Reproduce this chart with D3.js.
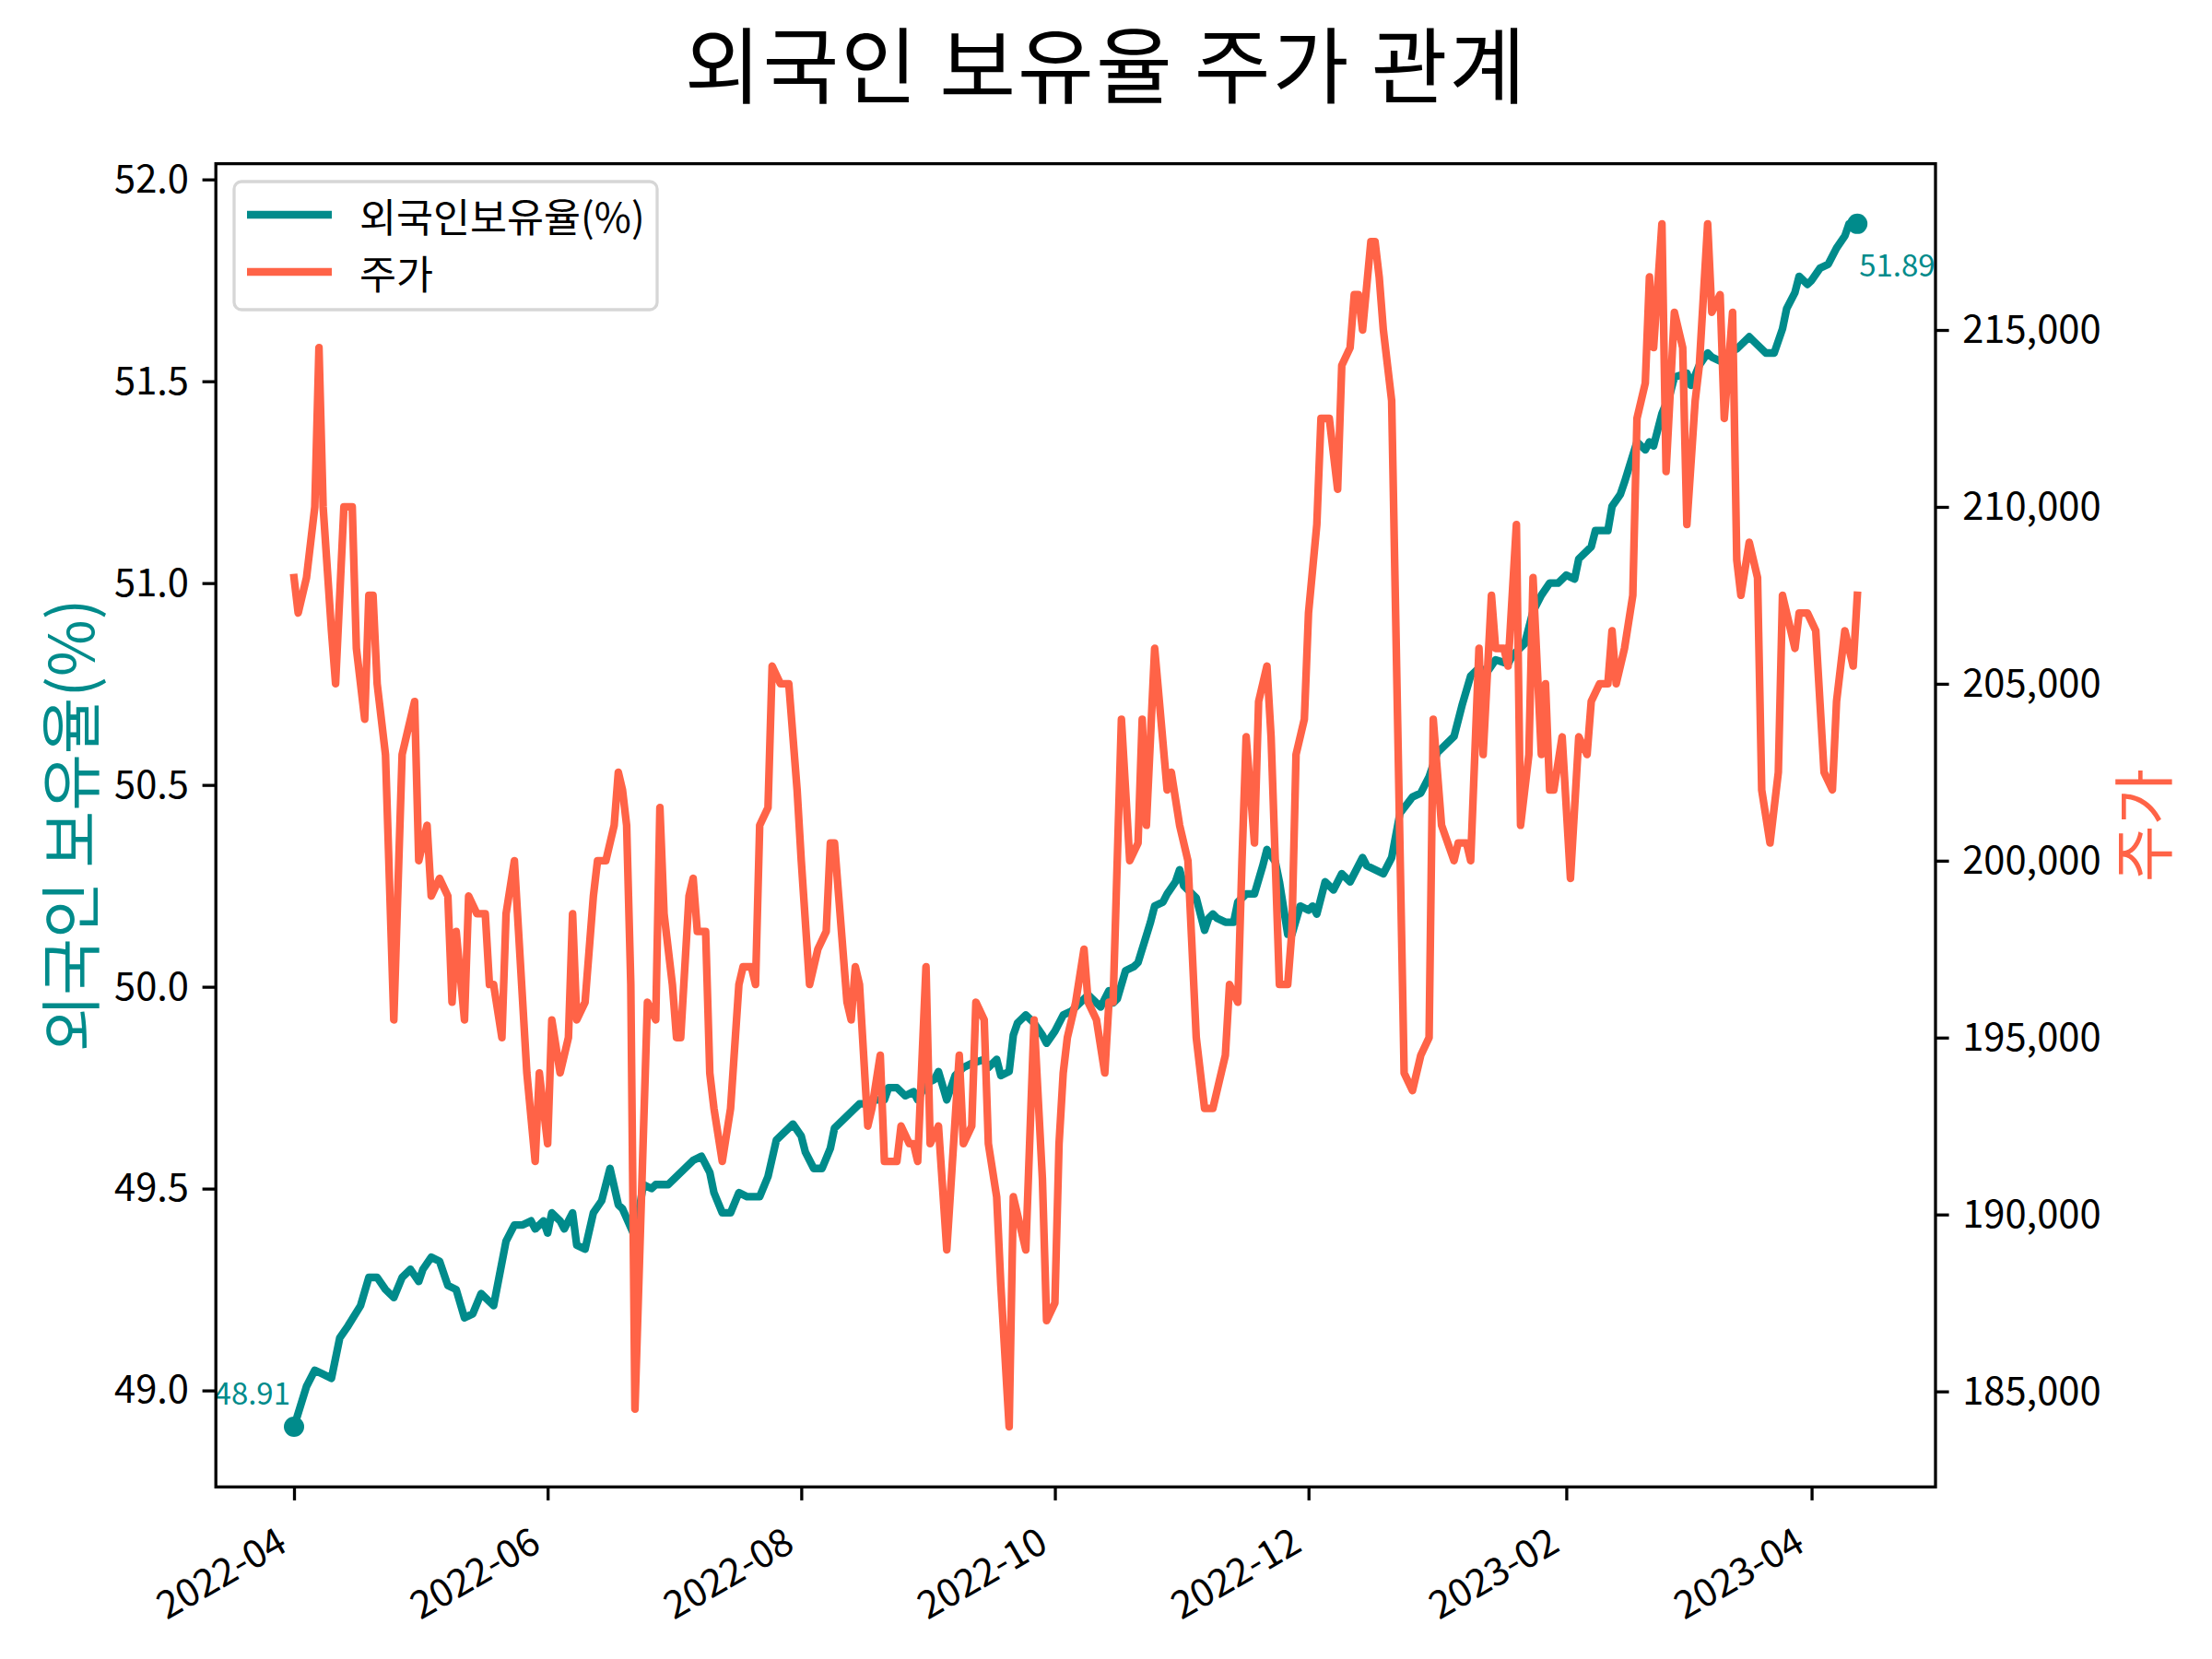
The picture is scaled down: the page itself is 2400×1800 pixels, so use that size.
<!DOCTYPE html>
<html>
<head>
<meta charset="utf-8">
<script src="https://cdnjs.cloudflare.com/ajax/libs/d3/7.8.5/d3.min.js"></script>
<style>
  html, body { margin: 0; padding: 0; background: #ffffff; }
  svg text { font-family: "Noto Sans CJK KR", "Noto Sans", sans-serif; }
</style>
</head>
<body>
<svg id="chart" width="2400" height="1800"></svg>
<script>
// ---------------- data ----------------
const chartTitle = "외국인 보유율 주가 관계";
const seriesNames = ["외국인보유율(%)", "주가"];
const leftAxisLabel = "외국인 보유율(%)";
const rightAxisLabel = "주가";

const ownDates = ["2022-04-01","2022-04-04","2022-04-06","2022-04-08","2022-04-10","2022-04-12","2022-04-14","2022-04-17","2022-04-19","2022-04-21","2022-04-23","2022-04-25","2022-04-27","2022-04-29","2022-05-01","2022-05-02","2022-05-04","2022-05-06","2022-05-08","2022-05-10","2022-05-12","2022-05-14","2022-05-16","2022-05-19","2022-05-22","2022-05-24","2022-05-26","2022-05-28","2022-05-29","2022-05-31","2022-06-01","2022-06-02","2022-06-04","2022-06-05","2022-06-07","2022-06-08","2022-06-10","2022-06-12","2022-06-14","2022-06-16","2022-06-18","2022-06-19","2022-06-22","2022-06-24","2022-06-26","2022-06-27","2022-06-30","2022-07-02","2022-07-04","2022-07-06","2022-07-08","2022-07-10","2022-07-11","2022-07-13","2022-07-15","2022-07-17","2022-07-19","2022-07-22","2022-07-24","2022-07-26","2022-07-28","2022-07-29","2022-07-30","2022-08-01","2022-08-02","2022-08-04","2022-08-06","2022-08-08","2022-08-09","2022-08-11","2022-08-13","2022-08-15","2022-08-17","2022-08-19","2022-08-21","2022-08-22","2022-08-24","2022-08-26","2022-08-28","2022-08-29","2022-08-31","2022-09-02","2022-09-03","2022-09-05","2022-09-07","2022-09-09","2022-09-11","2022-09-14","2022-09-15","2022-09-17","2022-09-18","2022-09-20","2022-09-21","2022-09-22","2022-09-24","2022-09-26","2022-09-28","2022-09-29","2022-10-01","2022-10-03","2022-10-05","2022-10-07","2022-10-09","2022-10-12","2022-10-14","2022-10-15","2022-10-16","2022-10-18","2022-10-20","2022-10-21","2022-10-24","2022-10-25","2022-10-27","2022-10-28","2022-10-30","2022-10-31","2022-11-01","2022-11-02","2022-11-04","2022-11-06","2022-11-07","2022-11-08","2022-11-09","2022-11-11","2022-11-13","2022-11-14","2022-11-16","2022-11-18","2022-11-20","2022-11-21","2022-11-23","2022-11-24","2022-11-26","2022-11-27","2022-11-29","2022-12-01","2022-12-02","2022-12-03","2022-12-05","2022-12-07","2022-12-09","2022-12-11","2022-12-14","2022-12-15","2022-12-19","2022-12-21","2022-12-23","2022-12-26","2022-12-28","2022-12-30","2023-01-01","2023-01-05","2023-01-07","2023-01-09","2023-01-11","2023-01-13","2023-01-15","2023-01-18","2023-01-19","2023-01-22","2023-01-24","2023-01-26","2023-01-28","2023-01-30","2023-02-01","2023-02-03","2023-02-04","2023-02-07","2023-02-08","2023-02-11","2023-02-12","2023-02-14","2023-02-15","2023-02-18","2023-02-20","2023-02-21","2023-02-22","2023-02-24","2023-02-26","2023-02-27","2023-03-02","2023-03-03","2023-03-05","2023-03-07","2023-03-08","2023-03-10","2023-03-12","2023-03-14","2023-03-17","2023-03-18","2023-03-21","2023-03-23","2023-03-25","2023-03-26","2023-03-28","2023-03-29","2023-03-31","2023-04-01","2023-04-03","2023-04-05","2023-04-07","2023-04-09","2023-04-10","2023-04-12"];
const ownValues = [48.91,49.01,49.05,49.04,49.03,49.13,49.16,49.21,49.28,49.28,49.25,49.23,49.28,49.30,49.27,49.30,49.33,49.32,49.26,49.25,49.18,49.19,49.24,49.21,49.37,49.41,49.41,49.42,49.40,49.42,49.39,49.44,49.42,49.40,49.44,49.36,49.35,49.44,49.47,49.55,49.46,49.45,49.38,49.51,49.50,49.51,49.51,49.53,49.55,49.57,49.58,49.54,49.49,49.44,49.44,49.49,49.48,49.48,49.53,49.62,49.64,49.65,49.66,49.63,49.59,49.55,49.55,49.60,49.65,49.67,49.69,49.71,49.71,49.72,49.72,49.75,49.75,49.73,49.74,49.72,49.76,49.77,49.79,49.72,49.78,49.80,49.81,49.82,49.80,49.82,49.78,49.79,49.88,49.91,49.93,49.91,49.88,49.86,49.89,49.93,49.94,49.96,49.98,49.95,49.99,49.96,49.97,50.04,50.05,50.06,50.16,50.20,50.21,50.23,50.26,50.29,50.25,50.24,50.22,50.14,50.17,50.18,50.17,50.16,50.16,50.21,50.23,50.23,50.30,50.34,50.31,50.26,50.13,50.13,50.20,50.19,50.20,50.18,50.26,50.24,50.28,50.26,50.32,50.30,50.28,50.32,50.43,50.47,50.48,50.52,50.58,50.62,50.70,50.77,50.79,50.78,50.81,50.80,50.82,50.85,50.93,50.97,51.00,51.00,51.02,51.01,51.06,51.09,51.13,51.13,51.19,51.22,51.25,51.35,51.33,51.35,51.34,51.42,51.47,51.51,51.52,51.49,51.54,51.57,51.56,51.55,51.57,51.58,51.61,51.60,51.57,51.57,51.63,51.68,51.72,51.76,51.74,51.75,51.78,51.79,51.83,51.86,51.89,51.89];

const priceDates = ["2022-04-01","2022-04-02","2022-04-04","2022-04-06","2022-04-07","2022-04-08","2022-04-10","2022-04-11","2022-04-13","2022-04-15","2022-04-16","2022-04-18","2022-04-19","2022-04-20","2022-04-21","2022-04-23","2022-04-25","2022-04-27","2022-04-30","2022-05-01","2022-05-03","2022-05-04","2022-05-06","2022-05-08","2022-05-09","2022-05-10","2022-05-12","2022-05-13","2022-05-15","2022-05-17","2022-05-18","2022-05-19","2022-05-21","2022-05-22","2022-05-24","2022-05-25","2022-05-27","2022-05-29","2022-05-30","2022-06-01","2022-06-02","2022-06-04","2022-06-06","2022-06-07","2022-06-08","2022-06-10","2022-06-12","2022-06-13","2022-06-15","2022-06-17","2022-06-18","2022-06-19","2022-06-20","2022-06-21","2022-06-22","2022-06-25","2022-06-27","2022-06-28","2022-06-29","2022-07-01","2022-07-02","2022-07-03","2022-07-05","2022-07-06","2022-07-07","2022-07-09","2022-07-10","2022-07-11","2022-07-13","2022-07-15","2022-07-17","2022-07-18","2022-07-20","2022-07-21","2022-07-22","2022-07-24","2022-07-25","2022-07-27","2022-07-29","2022-07-31","2022-08-01","2022-08-03","2022-08-04","2022-08-05","2022-08-07","2022-08-08","2022-08-09","2022-08-10","2022-08-12","2022-08-13","2022-08-14","2022-08-15","2022-08-17","2022-08-18","2022-08-20","2022-08-21","2022-08-24","2022-08-25","2022-08-27","2022-08-28","2022-08-29","2022-08-31","2022-09-01","2022-09-03","2022-09-05","2022-09-08","2022-09-09","2022-09-11","2022-09-12","2022-09-14","2022-09-15","2022-09-17","2022-09-18","2022-09-20","2022-09-21","2022-09-23","2022-09-24","2022-09-26","2022-09-28","2022-09-29","2022-10-01","2022-10-02","2022-10-03","2022-10-04","2022-10-06","2022-10-08","2022-10-09","2022-10-11","2022-10-13","2022-10-14","2022-10-15","2022-10-17","2022-10-19","2022-10-21","2022-10-22","2022-10-23","2022-10-25","2022-10-28","2022-10-29","2022-10-31","2022-11-02","2022-11-04","2022-11-06","2022-11-08","2022-11-09","2022-11-11","2022-11-12","2022-11-14","2022-11-15","2022-11-16","2022-11-18","2022-11-19","2022-11-21","2022-11-22","2022-11-24","2022-11-26","2022-11-27","2022-11-28","2022-11-30","2022-12-01","2022-12-03","2022-12-04","2022-12-06","2022-12-08","2022-12-09","2022-12-11","2022-12-12","2022-12-13","2022-12-14","2022-12-16","2022-12-17","2022-12-18","2022-12-19","2022-12-21","2022-12-24","2022-12-26","2022-12-28","2022-12-30","2022-12-31","2023-01-02","2023-01-05","2023-01-06","2023-01-08","2023-01-09","2023-01-11","2023-01-12","2023-01-14","2023-01-15","2023-01-17","2023-01-18","2023-01-20","2023-01-21","2023-01-23","2023-01-24","2023-01-26","2023-01-27","2023-01-28","2023-01-29","2023-01-31","2023-02-02","2023-02-04","2023-02-06","2023-02-07","2023-02-09","2023-02-11","2023-02-12","2023-02-13","2023-02-15","2023-02-17","2023-02-18","2023-02-20","2023-02-21","2023-02-22","2023-02-24","2023-02-25","2023-02-27","2023-03-01","2023-03-02","2023-03-04","2023-03-05","2023-03-07","2023-03-08","2023-03-10","2023-03-11","2023-03-13","2023-03-14","2023-03-15","2023-03-17","2023-03-19","2023-03-20","2023-03-22","2023-03-24","2023-03-25","2023-03-28","2023-03-29","2023-03-31","2023-04-02","2023-04-04","2023-04-06","2023-04-07","2023-04-09","2023-04-11","2023-04-12"];
const priceValues = [208000,207000,208000,210000,214500,210000,206500,205000,210000,210000,206000,204000,207500,207500,205000,203000,195500,203000,204500,200000,201000,199000,199500,199000,196000,198000,195500,199000,198500,198500,196500,196500,195000,198500,200000,198000,194000,191500,194000,192000,195500,194000,195000,198500,195500,196000,199000,200000,200000,201000,202500,202000,201000,196500,184500,196000,195500,201500,198500,196500,195000,195000,199000,199500,198000,198000,194000,193000,191500,193000,196500,197000,197000,196500,201000,201500,205500,205000,205000,202000,200000,196500,197000,197500,198000,200500,200500,199000,196000,195500,197000,196500,192500,193000,194500,191500,191500,192500,192000,192000,191500,197000,192000,192500,189000,194500,192000,192500,196000,195500,192000,190500,188000,184000,190500,189500,189000,195500,191000,187000,187500,192000,194000,195000,196000,197500,196000,195500,194000,196000,196000,204000,200000,200500,204000,201000,206000,202000,202500,201000,200000,195000,193000,193000,193500,194500,196500,196000,200000,203500,200500,204500,205500,203500,196500,196500,198000,203000,204000,207000,209500,212500,212500,210500,214000,214500,216000,216000,215000,217500,217500,216500,215000,213000,194000,193500,194500,195000,204000,201000,200000,200500,200500,200000,206000,203000,207500,206000,206000,205500,209500,201000,203000,208000,203000,205000,202000,202000,203500,199500,203500,203000,204500,205000,205000,206500,205000,206000,207500,212500,213500,216500,214500,218000,211000,215500,214500,209500,213000,214000,218000,215500,216000,212500,215500,208500,207500,209000,208000,202000,200500,202500,207500,206000,207000,207000,206500,202500,202000,204500,206500,205500,207500];

const xTickLabels = ["2022-04","2022-06","2022-08","2022-10","2022-12","2023-02","2023-04"];
const leftTicks = [49.0, 49.5, 50.0, 50.5, 51.0, 51.5, 52.0];
const rightTicks = [185000, 190000, 195000, 200000, 205000, 210000, 215000];

// ---------------- layout / style ----------------
const OWN_COLOR = "#008b8b";
const PRICE_COLOR = "#ff6347";
const M = { left: 234.2, right: 2100, top: 177.6, bottom: 1613.3 };
const TICK_FS = 41.7, LINE_W = 8.3, SPINE_W = 3.3, TICK_LEN = 14.6;

const svg = d3.select("#chart");
svg.append("rect").attr("width", 2400).attr("height", 1800).attr("fill", "#fff");

const parse = d3.timeParse("%Y-%m-%d");
const own = ownDates.map((d, i) => ({ date: parse(d), v: ownValues[i] }));
const price = priceDates.map((d, i) => ({ date: parse(d), v: priceValues[i] }));

const [t0, t1] = d3.extent(own.map(d => d.date).concat(price.map(d => d.date)));
const tp = (t1 - t0) * 0.05;
const x = d3.scaleTime().domain([new Date(+t0 - tp), new Date(+t1 + tp)]).range([M.left, M.right]);
const [o0, o1] = d3.extent(ownValues); const op = (o1 - o0) * 0.05;
const yL = d3.scaleLinear().domain([o0 - op, o1 + op]).range([M.bottom, M.top]);
const [p0, p1] = d3.extent(priceValues); const pp = (p1 - p0) * 0.05;
const yR = d3.scaleLinear().domain([p0 - pp, p1 + pp]).range([M.bottom, M.top]);

function styleAxis(g) {
  g.attr("font-size", null).attr("font-family", null);
  g.select(".domain").remove();
  g.selectAll(".tick line").attr("stroke", "#000").attr("stroke-width", SPINE_W);
  g.selectAll(".tick text").attr("fill", "#000").style("font-size", TICK_FS + "px");
}

// left axis
svg.append("g").attr("transform", `translate(${M.left},0)`)
  .call(d3.axisLeft(yL).tickValues(leftTicks).tickFormat(d3.format(".1f"))
    .tickSize(TICK_LEN).tickPadding(TICK_LEN).tickSizeOuter(0))
  .call(styleAxis);

// right axis
svg.append("g").attr("transform", `translate(${M.right},0)`)
  .call(d3.axisRight(yR).tickValues(rightTicks).tickFormat(d3.format(","))
    .tickSize(TICK_LEN).tickPadding(TICK_LEN).tickSizeOuter(0))
  .call(styleAxis);

// bottom axis
const monthParse = d3.timeParse("%Y-%m");
const xb = svg.append("g").attr("transform", `translate(0,${M.bottom})`)
  .call(d3.axisBottom(x).tickValues(xTickLabels.map(monthParse)).tickFormat(d3.timeFormat("%Y-%m"))
    .tickSize(TICK_LEN).tickSizeOuter(0))
  .call(styleAxis);
xb.selectAll(".tick text")
  .attr("x", 0).attr("y", 0).attr("dy", "0.78em")
  .attr("text-anchor", "end")
  .attr("transform", "translate(-22,40) rotate(-30)");

// lines
const line = (ys) => d3.line().x(d => x(d.date)).y(d => ys(d.v));
svg.append("path").datum(own).attr("d", line(yL))
  .attr("fill", "none").attr("stroke", OWN_COLOR).attr("stroke-width", LINE_W)
  .attr("stroke-linejoin", "round").attr("stroke-linecap", "square");

// endpoint markers & annotations
const firstO = own[0], lastO = own[own.length - 1];
svg.selectAll("circle.end").data([firstO, lastO]).join("circle").attr("class", "end")
  .attr("cx", d => x(d.date)).attr("cy", d => yL(d.v)).attr("r", 11).attr("fill", OWN_COLOR);
svg.append("text").attr("x", x(firstO.date) - 4).attr("y", yL(firstO.v) - 24)
  .attr("text-anchor", "end").attr("fill", OWN_COLOR).style("font-size", "33px")
  .text(d3.format(".2f")(firstO.v));
svg.append("text").attr("x", x(lastO.date) + 2).attr("y", yL(lastO.v) + 57)
  .attr("text-anchor", "start").attr("fill", OWN_COLOR).style("font-size", "33px")
  .text(d3.format(".2f")(lastO.v));

svg.append("path").datum(price).attr("d", line(yR))
  .attr("fill", "none").attr("stroke", PRICE_COLOR).attr("stroke-width", LINE_W)
  .attr("stroke-linejoin", "round").attr("stroke-linecap", "square");

// frame
svg.append("rect").attr("x", M.left).attr("y", M.top)
  .attr("width", M.right - M.left).attr("height", M.bottom - M.top)
  .attr("fill", "none").attr("stroke", "#000").attr("stroke-width", SPINE_W);

// legend
const lg = svg.append("g");
lg.append("rect").attr("x", 254).attr("y", 197).attr("width", 459).attr("height", 139)
  .attr("rx", 8).attr("fill", "#fff").attr("fill-opacity", 0.8)
  .attr("stroke", "#d6d6d6").attr("stroke-width", SPINE_W);
[OWN_COLOR, PRICE_COLOR].forEach((c, i) => {
  const yy = 233 + i * 62;
  lg.append("line").attr("x1", 268).attr("x2", 360).attr("y1", yy).attr("y2", yy)
    .attr("stroke", c).attr("stroke-width", LINE_W);
  lg.append("text").attr("x", 390).attr("y", yy).attr("dominant-baseline", "central")
    .style("font-size", "43.5px").attr("fill", "#000").text(seriesNames[i]);
});

// axis labels
svg.append("text").attr("transform", `translate(72,${(M.top + M.bottom) / 2}) rotate(-90)`)
  .attr("text-anchor", "middle").attr("dominant-baseline", "central")
  .style("font-size", "67px").attr("fill", OWN_COLOR).text(leftAxisLabel);
svg.append("text").attr("transform", `translate(2321,${(M.top + M.bottom) / 2}) rotate(-90)`)
  .attr("text-anchor", "middle").attr("dominant-baseline", "central")
  .style("font-size", "67px").attr("fill", PRICE_COLOR).text(rightAxisLabel);

// title
svg.append("text").attr("x", 1200).attr("y", 66).attr("text-anchor", "middle")
  .attr("dominant-baseline", "central").style("font-size", "90px")
  .style("letter-spacing", "2px").attr("fill", "#000")
  .text(chartTitle);
</script>
</body>
</html>
